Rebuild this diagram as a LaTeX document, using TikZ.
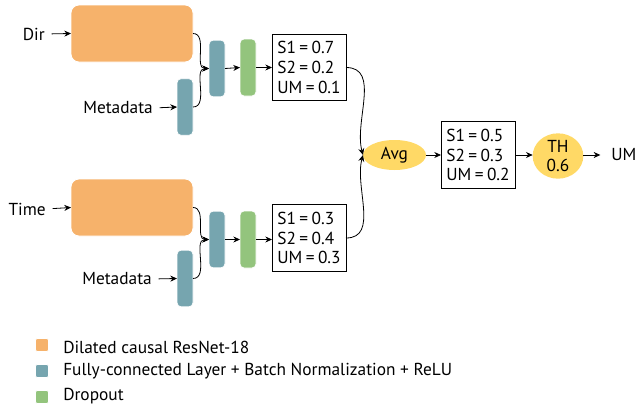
\documentclass[tikz,border=0pt]{standalone}
\usepackage{fontspec}
\setmainfont{PT Sans}
\usetikzlibrary{arrows.meta,shapes.geometric}
\definecolor{cOrange}{HTML}{F6B26B}
\definecolor{cTeal}{HTML}{76A5AF}
\definecolor{cGreen}{HTML}{93C47D}
\definecolor{cYellow}{HTML}{FFD966}
\newcommand{\eqv}[2]{#1\hspace{0.2em}=\hspace{0.2em}#2}
\begin{document}
\begin{tikzpicture}[x=0.75pt,y=-0.75pt,
  every node/.style={font=\fontsize{13}{14.8}\selectfont},
  blk/.style={draw=white,line width=0.6pt,rounded corners=3pt,inner sep=0pt,outer sep=0pt},
  orangebox/.style={blk,fill=cOrange,rounded corners=6pt,minimum width=91.5pt,minimum height=42.75pt},
  tealbox/.style={blk,fill=cTeal,minimum width=12pt,minimum height=42.5pt},
  greenbox/.style={blk,fill=cGreen,minimum width=12pt,minimum height=42.75pt},
  resbox/.style={draw=black,line width=0.6pt,fill=white,align=left,inner sep=0pt,outer sep=0pt,minimum width=55.5pt,minimum height=50pt},
  oval/.style={ellipse,fill=cYellow,inner sep=0pt,outer sep=0pt},
  lab/.style={inner sep=0pt},
  arr/.style={-{Stealth[length=5pt,width=4.5pt]},line width=0.6pt},
  legsq/.style={blk,rounded corners=1.5pt,minimum size=9.75pt},
]
\useasboundingbox (0,0) rectangle (637,407);

% ---- upper branch
\node[orangebox] (o1) at (132,33.5) {};
\node[tealbox] (m1) at (185,107) {};
\node[tealbox] (f1) at (217,68.5) {};
\node[greenbox] (d1) at (248,67.5) {};
\node[resbox] (r1) at (309,67.5) {\eqv{S1}{0.7}\\\eqv{S2}{0.2}\\\eqv{UM}{0.1}};
\node[lab,anchor=east] (dir) at (45,34) {Dir};
\node[lab,anchor=east] (meta1) at (153,108) {Metadata};

% ---- lower branch
\node[orangebox] (o2) at (132,207.5) {};
\node[tealbox] (m2) at (185,278.5) {};
\node[tealbox] (f2) at (217,239.5) {};
\node[greenbox] (d2) at (248,239.5) {};
\node[resbox] (r2) at (309,238) {\eqv{S1}{0.3}\\\eqv{S2}{0.4}\\\eqv{UM}{0.3}};
\node[lab,anchor=east] (time) at (46,209) {Time};
\node[lab,anchor=east] (meta2) at (152,279) {Metadata};

% ---- merge
\node[oval,minimum width=47.25pt,minimum height=22.5pt] (avg) at (394.5,155) {Avg};
\node[resbox] (r3) at (478,155) {\eqv{S1}{0.5}\\\eqv{S2}{0.3}\\\eqv{UM}{0.2}};
\node[oval,minimum width=38pt,minimum height=32pt,align=center] (th) at (558,156) {TH\\0.6};
\node[lab,anchor=west] (um) at (611,155) {UM};

% ---- connectors
\draw[arr,shorten <=5pt] (dir.east) -- (o1.west);
\draw[arr,shorten <=5pt] (meta1.east) -- (m1.west);
\draw[arr] (o1.east) to[out=0,in=180] (f1.west);
\draw[arr] (m1.east) to[out=0,in=180] (f1.west);
\draw[arr] (f1.east) -- (d1.west);
\draw[arr] (d1.east) -- (d1.east -| r1.west);

\draw[arr,shorten <=5pt] (time.east) -- (o2.west);
\draw[arr,shorten <=5pt] (meta2.east) -- (m2.west);
\draw[arr] (o2.east) to[out=0,in=180] (f2.west);
\draw[arr] (m2.east) to[out=0,in=180] (f2.west);
\draw[arr] (f2.east) -- (d2.west);
\draw[arr] (d2.east) -- (d2.east -| r2.west);

\draw[arr] (r1.east) to[out=0,in=105] (avg.west);
\draw[arr] (r2.east) to[out=0,in=-105] (avg.west);
\draw[arr] (avg.east) -- (r3.west);
\draw[arr] (r3.east) -- (r3.east -| th.west);
\draw[arr,shorten >=8pt] (th.east |- um.west) -- (um.west);

% ---- legend
\node[legsq,fill=cOrange] (l1) at (42,345) {};
\node[legsq,fill=cTeal] (l2) at (42,371) {};
\node[legsq,fill=cGreen] (l3) at (42,397) {};
\node[lab,anchor=west] (t1) at (63,347) {Dilated causal ResNet-18};
\node[lab,anchor=west] (t2) at (63,371) {Fully-connected Layer + Batch Normalization + ReLU};
\node[lab,anchor=west] (t3) at (63,396) {Dropout};
\end{tikzpicture}
\end{document}
